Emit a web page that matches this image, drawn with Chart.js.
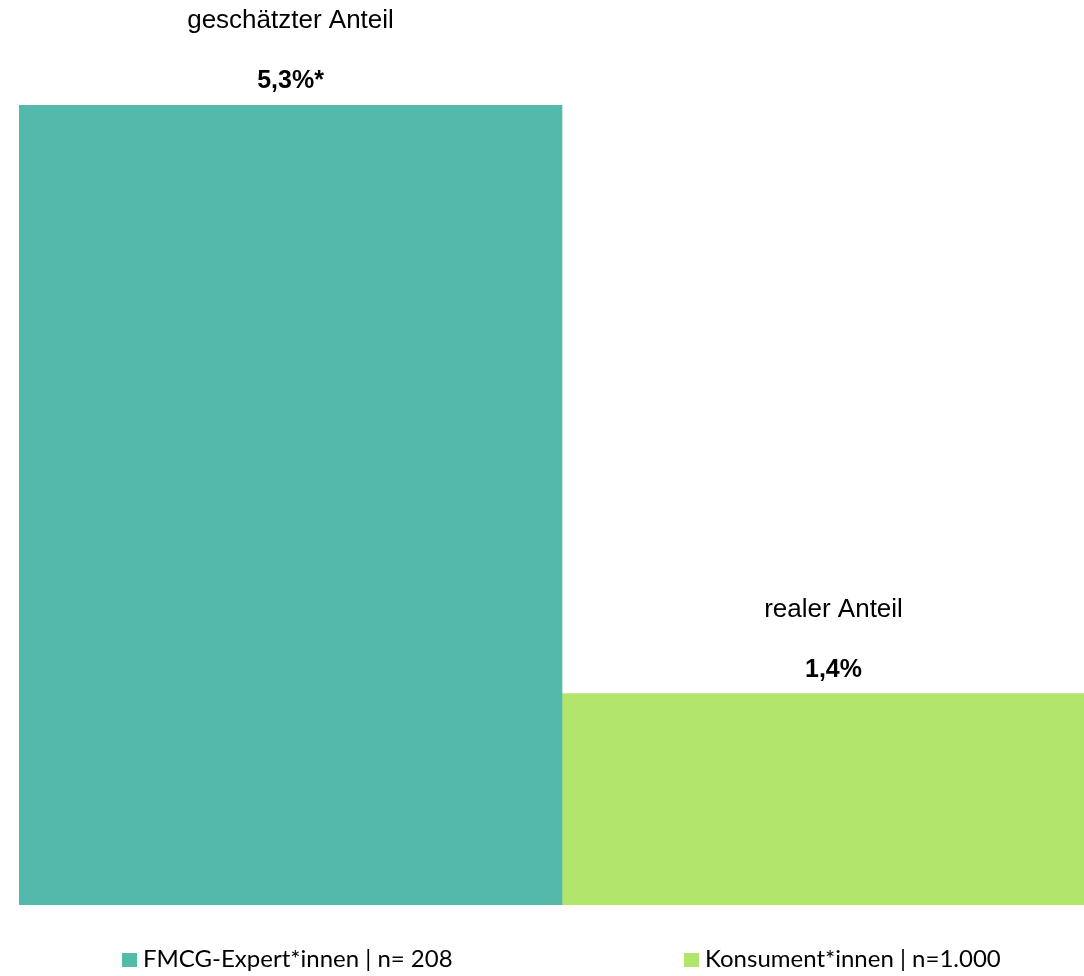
<!DOCTYPE html>
<html>
<head>
<meta charset="utf-8">
<script src="https://cdn.jsdelivr.net/npm/chart.js@4"></script>
<style>
  html, body { margin: 0; padding: 0; background: #fff; overflow: hidden; }
  .wrap { position: relative; width: 1106px; height: 976px; }
</style>
</head>
<body>
<div class="wrap"><canvas id="chart"></canvas></div>
<script>
const categories = ['geschätzter Anteil', 'realer Anteil'];
const values = [5.3, 1.4];
const valueLabels = ['5,3%*', '1,4%'];
const seriesNames = ['FMCG-Expert*innen | n= 208', 'Konsument*innen | n=1.000'];
const colors = ['#52b9ab', '#b2e56b'];

const labelFont = '26px "Liberation Sans", Arial, sans-serif';
const valueFont = 'bold 25px "Liberation Sans", Arial, sans-serif';
const legendFont = '24px Lato, "Open Sans", sans-serif';

// labels above each bar: category name + bold value
const barLabels = {
  id: 'barLabels',
  afterDatasetsDraw(chart) {
    const { ctx } = chart;
    chart.data.datasets.forEach((ds, i) => {
      const meta = chart.getDatasetMeta(i);
      meta.data.forEach((bar, j) => {
        if (ds.data[j] == null) return;
        ctx.save();
        ctx.fillStyle = '#000';
        ctx.textAlign = 'center';
        ctx.textBaseline = 'alphabetic';
        ctx.font = labelFont;
        ctx.fillText(categories[j], bar.x, bar.y - 77);
        ctx.font = valueFont;
        ctx.fillText(valueLabels[j], bar.x, bar.y - 17);
        ctx.restore();
      });
    });
  }
};

// legend row at the bottom
const bottomLegend = {
  id: 'bottomLegend',
  afterDraw(chart) {
    const { ctx } = chart;
    const xs = [122, 684];
    xs.forEach((x, i) => {
      ctx.save();
      ctx.fillStyle = colors[i];
      ctx.fillRect(x, 953, 15, 14);
      ctx.fillStyle = '#000';
      ctx.font = legendFont;
      ctx.textBaseline = 'alphabetic';
      ctx.textAlign = 'left';
      ctx.fillText(seriesNames[i], x + 21, 967);
      ctx.restore();
    });
  }
};

function draw() {
  const ctx = document.getElementById('chart').getContext('2d');
  new Chart(ctx, {
    type: 'bar',
    data: {
      labels: categories,
      datasets: seriesNames.map((name, i) => ({
        label: name,
        data: values.map((v, j) => (j === i ? v : null)),
        backgroundColor: colors[i],
        borderWidth: 0,
        barPercentage: 1,
        categoryPercentage: 1,
        grouped: false,
      })),
    },
    options: {
      responsive: true,
      maintainAspectRatio: false,
      animation: false,
      layout: { padding: { top: 105, bottom: 71, left: 19, right: 1 } },
      plugins: {
        legend: { display: false },
        tooltip: { enabled: false },
      },
      scales: {
        x: { display: false },
        y: { display: false, min: 0, max: 5.3 },
      },
    },
    plugins: [barLabels, bottomLegend],
  });
}

Promise.all([labelFont, valueFont, legendFont].map((f) => document.fonts.load(f, 'Aä5%')))
  .catch(() => {})
  .then(draw);
</script>
</body>
</html>
